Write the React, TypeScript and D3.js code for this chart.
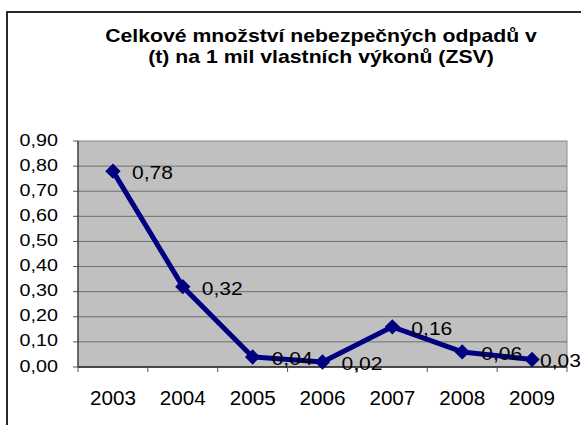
import React from "react";
import * as d3 from "d3";

const categories = ["2003", "2004", "2005", "2006", "2007", "2008", "2009"];
const values = [0.78, 0.32, 0.04, 0.02, 0.16, 0.06, 0.03];
const yTicks = [0, 0.1, 0.2, 0.3, 0.4, 0.5, 0.6, 0.7, 0.8, 0.9];
const titleLines = ["Celkové množství nebezpečných odpadů v", "(t) na 1 mil vlastních výkonů (ZSV)"];

const W = 581;
const H = 425;
const plot = { left: 78, right: 567, top: 141, bottom: 367 };
const FONT = "'Liberation Sans', Arial, sans-serif";
const fmt = (v: number) => d3.format(".2f")(v).replace(".", ",");

export default function App() {
  const x = d3.scaleBand<string>().domain(categories).range([plot.left, plot.right]).padding(0);
  const y = d3.scaleLinear().domain([0, 0.9]).range([plot.bottom, plot.top]);
  const cx = (c: string) => (x(c) as number) + x.bandwidth() / 2;
  const line = d3
    .line<number>()
    .x((_, i) => cx(categories[i]))
    .y((d) => y(d));
  const diamond = d3.symbol().type(d3.symbolDiamond2).size(150)();
  const boundaries = categories.map((c) => x(c) as number).concat([plot.right]);
  const labelW = 41;

  return (
    <svg width={W} height={H} style={{ position: "absolute", left: 0, top: 0, background: "#fff" }} fontFamily={FONT}>
      <rect x={0} y={0} width={W} height={H} fill="#fff" />
      {/* outer chart border */}
      <rect x={7} y={12} width={W + 20} height={H + 20} fill="none" stroke="#111" strokeWidth={1.8} />
      {/* title */}
      {titleLines.map((t, i) => (
        <text
          key={i}
          transform={`translate(321,${42 + i * 20.5}) scale(1.18,1)`}
          textAnchor="middle"
          fontWeight="bold"
          fontSize={18}
          fill="#000"
        >
          {t}
        </text>
      ))}
      {/* plot area */}
      <rect
        x={plot.left}
        y={plot.top}
        width={plot.right - plot.left}
        height={plot.bottom - plot.top}
        fill="#C0C0C0"
        stroke="#8a8a8a"
        strokeWidth={1}
      />
      {yTicks.map((t) => (
        <g key={t}>
          {t > 0 && t < 0.9 && (
            <line x1={plot.left} x2={plot.right} y1={y(t)} y2={y(t)} stroke="#6e6e6e" strokeWidth={1} />
          )}
          <line x1={plot.left - 5} x2={plot.left} y1={y(t)} y2={y(t)} stroke="#555" strokeWidth={1} />
          <text
            transform={`translate(58,${y(t) + 4.5}) scale(1.16,1)`}
            textAnchor="end"
            fontSize={17}
            fill="#000"
          >
            {fmt(t)}
          </text>
        </g>
      ))}
      {/* axes */}
      <line x1={plot.left} x2={plot.left} y1={plot.top} y2={plot.bottom} stroke="#333" strokeWidth={1.2} />
      <line x1={plot.left} x2={plot.right} y1={plot.bottom} y2={plot.bottom} stroke="#222" strokeWidth={1.5} />
      {boundaries.map((b, i) => (
        <line key={i} x1={b} x2={b} y1={plot.bottom} y2={plot.bottom + 5} stroke="#555" strokeWidth={1} />
      ))}
      {categories.map((c) => (
        <text key={c} transform={`translate(${cx(c)},405) scale(1.06,1)`} textAnchor="middle" fontSize={19.5} fill="#000">
          {c}
        </text>
      ))}
      {/* series */}
      <path d={line(values) as string} fill="none" stroke="#000080" strokeWidth={5} strokeLinejoin="round" />
      {values.map((v, i) => (
        <path key={i} d={diamond as string} transform={`translate(${cx(categories[i])},${y(v)})`} fill="#000080" />
      ))}
      {values.map((v, i) => {
        const lx = Math.min(cx(categories[i]) + 19, W - labelW);
        return (
          <text key={i} transform={`translate(${lx},${y(v) + 8}) scale(1.19,1)`} fontSize={17.7} fill="#000">
            {fmt(v)}
          </text>
        );
      })}
    </svg>
  );
}
